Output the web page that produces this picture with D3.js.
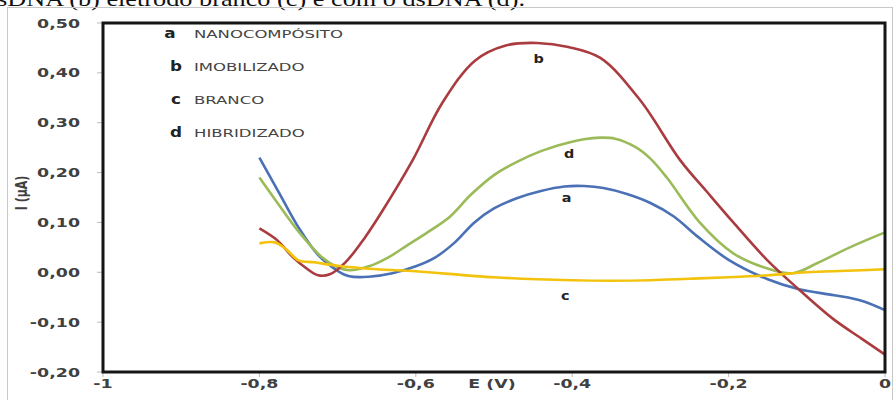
<!DOCTYPE html>
<html>
<head>
<meta charset="utf-8">
<script src="https://cdn.jsdelivr.net/npm/d3@7"></script>
<style>
  body { margin: 0; background: #fff; }
  svg { display: block; }
</style>
</head>
<body>
<div id="chart"></div>
<script>
// axis ticks
const xTicks = [-1, -0.8, -0.6, -0.4, -0.2, 0];
const xTickLabels = ["-1", "-0,8", "-0,6", "-0,4", "-0,2", "0"];
const yTicks = [-0.2, -0.1, 0, 0.1, 0.2, 0.3, 0.4, 0.5];
const yTickLabels = ["-0,20", "-0,10", "0,00", "0,10", "0,20", "0,30", "0,40", "0,50"];

// legend
const seriesKeys = ["a", "b", "c", "d"];
const seriesNames = ["NANOCOMPÓSITO", "IMOBILIZADO", "BRANCO", "HIBRIDIZADO"];

// a - nanocompósito (blue)
const aE = [-0.8, -0.775, -0.75, -0.725, -0.7, -0.685, -0.66, -0.63, -0.6, -0.575, -0.55, -0.525, -0.5, -0.47, -0.44, -0.41, -0.385, -0.36, -0.33, -0.3, -0.27, -0.24, -0.2, -0.15, -0.11, -0.065, -0.03, 0];
const aI = [0.23, 0.16, 0.09, 0.035, 0.003, -0.008, -0.009, -0.002, 0.012, 0.03, 0.06, 0.1, 0.128, 0.149, 0.163, 0.172, 0.173, 0.169, 0.157, 0.139, 0.112, 0.072, 0.025, -0.014, -0.034, -0.046, -0.057, -0.076];

// b - imobilizado (red)
const bE = [-0.8, -0.777, -0.757, -0.74, -0.725, -0.71, -0.69, -0.665, -0.642, -0.604, -0.566, -0.524, -0.485, -0.445, -0.405, -0.364, -0.313, -0.262, -0.228, -0.194, -0.151, -0.109, -0.066, -0.03, 0];
const bI = [0.088, 0.064, 0.03, 0.008, -0.006, -0.004, 0.02, 0.07, 0.125, 0.225, 0.34, 0.425, 0.455, 0.46, 0.452, 0.43, 0.345, 0.225, 0.162, 0.1, 0.025, -0.036, -0.094, -0.133, -0.165];

// c - branco (yellow)
const cE = [-0.8, -0.78, -0.765, -0.75, -0.73, -0.7, -0.65, -0.6, -0.5, -0.4, -0.35, -0.3, -0.25, -0.2, -0.15, -0.1, -0.05, 0];
const cI = [0.058, 0.06, 0.045, 0.024, 0.02, 0.013, 0.006, 0.002, -0.01, -0.016, -0.017, -0.016, -0.013, -0.01, -0.006, 0, 0.003, 0.006];

// d - hibridizado (green)
const dE = [-0.8, -0.775, -0.748, -0.72, -0.7, -0.685, -0.66, -0.635, -0.611, -0.585, -0.556, -0.53, -0.5, -0.47, -0.44, -0.41, -0.385, -0.364, -0.345, -0.32, -0.3, -0.279, -0.237, -0.194, -0.151, -0.118, -0.087, -0.045, 0];
const dI = [0.19, 0.135, 0.078, 0.03, 0.01, 0.004, 0.012, 0.03, 0.054, 0.08, 0.112, 0.155, 0.195, 0.222, 0.243, 0.258, 0.267, 0.27, 0.268, 0.252, 0.228, 0.19, 0.1, 0.038, 0.008, -0.002, 0.018, 0.05, 0.08];

// letters placed on the curves (a, b, c, d)
const tagE = [-0.407, -0.443, -0.409, -0.404];
const tagI = [0.141, 0.42, -0.055, 0.23];

const width = 896, height = 400;
const stretch = 1.45; // the source picture is squeezed sideways

const svg = d3.select("#chart").append("svg")
  .attr("width", width)
  .attr("height", height);

// caption from the page above, cut off at the top
svg.append("text")
  .attr("x", -3).attr("y", 6)
  .attr("font-family", "Liberation Serif, serif")
  .attr("font-size", 22)
  .attr("textLength", 528)
  .attr("lengthAdjust", "spacingAndGlyphs")
  .attr("fill", "#111")
  .text("sDNA (b) eletrodo branco (c) e com o dsDNA (d).");

// outer chart frame
svg.append("rect")
  .attr("x", 7.5).attr("y", 7.5)
  .attr("width", 885).attr("height", 410)
  .attr("fill", "none")
  .attr("stroke", "#c8c8c8");

const x = d3.scaleLinear().domain([-1, 0]).range([103, 885]);
const y = d3.scaleLinear().domain([-0.2, 0.5]).range([372, 23]);

// y ticks and labels
svg.append("g")
  .selectAll("line")
  .data(yTicks)
  .join("line")
  .attr("x1", 97).attr("x2", 103)
  .attr("y1", d => y(d)).attr("y2", d => y(d))
  .attr("stroke", "#bbb");

svg.append("g")
  .selectAll("text")
  .data(yTicks)
  .join("text")
  .attr("transform", d => `translate(80,${y(d) + 4.5}) scale(${stretch},1)`)
  .attr("text-anchor", "end")
  .attr("font-family", "DejaVu Sans, sans-serif")
  .attr("font-weight", "bold")
  .attr("font-size", 12)
  .attr("fill", "#404040")
  .text((d, i) => yTickLabels[i]);

// x ticks and labels
svg.append("g")
  .selectAll("line")
  .data(xTicks)
  .join("line")
  .attr("x1", d => x(d)).attr("x2", d => x(d))
  .attr("y1", 372).attr("y2", 377)
  .attr("stroke", "#bbb");

svg.append("g")
  .selectAll("text")
  .data(xTicks)
  .join("text")
  .attr("transform", d => `translate(${x(d)},388) scale(${stretch},1)`)
  .attr("text-anchor", "middle")
  .attr("font-family", "DejaVu Sans, sans-serif")
  .attr("font-weight", "bold")
  .attr("font-size", 12)
  .attr("fill", "#404040")
  .text((d, i) => xTickLabels[i]);

// axis titles
svg.append("text")
  .attr("transform", `translate(492,388) scale(${stretch},1)`)
  .attr("text-anchor", "middle")
  .attr("font-family", "DejaVu Sans, sans-serif")
  .attr("font-weight", "bold")
  .attr("font-size", 12)
  .attr("fill", "#404040")
  .text("E (V)");

svg.append("text")
  .attr("transform", `translate(27,193) scale(${stretch},1) rotate(-90)`)
  .attr("text-anchor", "middle")
  .attr("font-family", "DejaVu Sans, sans-serif")
  .attr("font-weight", "bold")
  .attr("font-size", 11)
  .attr("fill", "#404040")
  .text("I (µA)");

// curves
const line = d3.line()
  .x(d => x(d[0]))
  .y(d => y(d[1]))
  .curve(d3.curveCatmullRom.alpha(0.5));

const series = [
  { E: aE, I: aI, color: "#4a70b5" },
  { E: dE, I: dI, color: "#9bbb59" },
  { E: bE, I: bI, color: "#aa3c40" },
  { E: cE, I: cI, color: "#f2c20c" }
];

svg.append("g")
  .selectAll("path")
  .data(series)
  .join("path")
  .attr("d", s => line(s.E.map((e, i) => [e, s.I[i]])))
  .attr("fill", "none")
  .attr("stroke", s => s.color)
  .attr("stroke-width", 2.6)
  .attr("stroke-linejoin", "round");

// plot border
svg.append("rect")
  .attr("x", x(-1)).attr("y", y(0.5))
  .attr("width", x(0) - x(-1)).attr("height", y(-0.2) - y(0.5))
  .attr("fill", "none")
  .attr("stroke", "#151515")
  .attr("stroke-width", 3);

// letters on the curves
svg.append("g")
  .selectAll("text")
  .data(seriesKeys)
  .join("text")
  .attr("transform", (d, i) => `translate(${x(tagE[i])},${y(tagI[i])}) scale(1.2,1)`)
  .attr("text-anchor", "middle")
  .attr("font-family", "DejaVu Sans, sans-serif")
  .attr("font-weight", "bold")
  .attr("font-size", 12)
  .attr("fill", "#222")
  .text(d => d);

// legend
const legend = svg.append("g")
  .selectAll("g")
  .data(seriesKeys)
  .join("g")
  .attr("transform", (d, i) => `translate(0,${38 + i * 33})`);

legend.append("text")
  .attr("transform", (d, i) => `translate(${i === 0 ? 170 : 176},0) scale(1.2,1)`)
  .attr("text-anchor", "middle")
  .attr("font-family", "DejaVu Sans, sans-serif")
  .attr("font-weight", "bold")
  .attr("font-size", 14)
  .attr("fill", "#222")
  .text(d => d);

legend.append("text")
  .attr("transform", `translate(194,0) scale(1.65,1)`)
  .attr("font-family", "DejaVu Sans, sans-serif")
  .attr("font-size", 10)
  .attr("fill", "#444")
  .text((d, i) => seriesNames[i]);
</script>
</body>
</html>
